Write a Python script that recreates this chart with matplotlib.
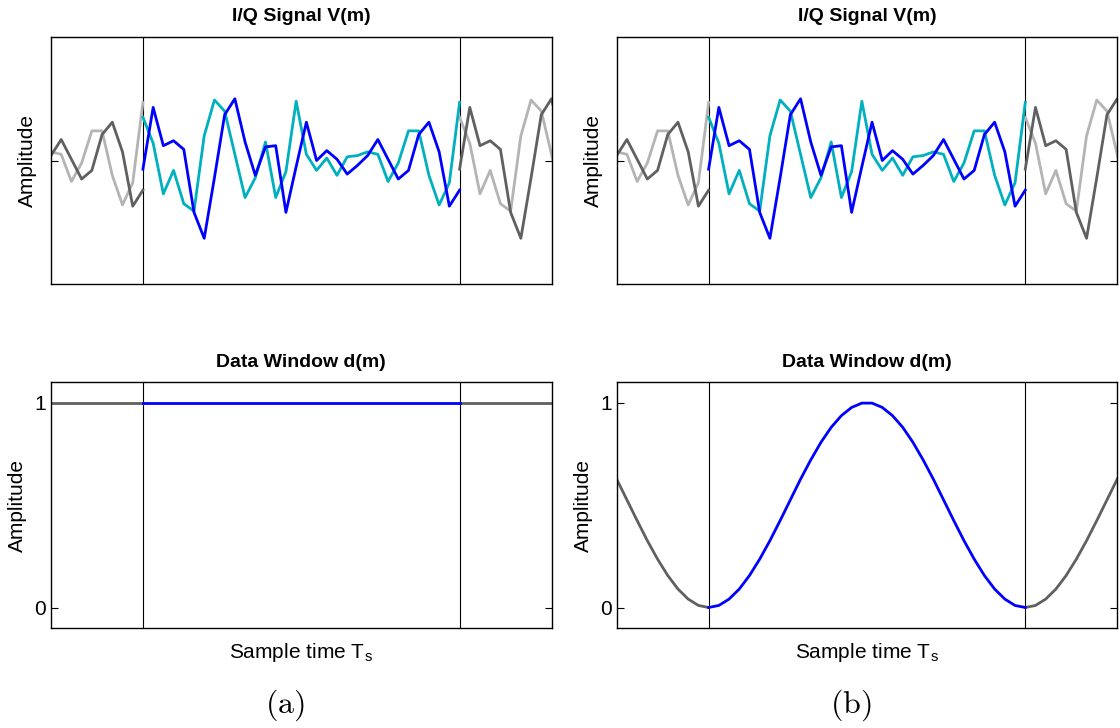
import numpy as np
import matplotlib.pyplot as plt

plt.rcParams['font.family'] = ['Liberation Sans', 'DejaVu Sans']
plt.rcParams['mathtext.fontset'] = 'cm'

# one frame of the complex baseband signal, 32 samples
n_samples = 32
i_signal = [-0.07, 0.43, 0.12, 0.16, 0.09, -0.42, -0.63, -0.14,
            0.37, 0.50, 0.15, -0.12, 0.11, 0.12, -0.42, -0.05,
            0.31, 0.00, 0.08, 0.01, -0.11, -0.04, 0.04, 0.17,
            0.01, -0.15, -0.08, 0.21, 0.31, 0.07, -0.37, -0.24]
q_signal = [0.35, 0.14, -0.27, -0.08, -0.35, -0.41, 0.20, 0.49,
            0.40, 0.05, -0.30, -0.14, 0.15, -0.30, -0.09, 0.48,
            0.05, -0.08, 0.02, -0.12, 0.03, 0.04, 0.07, 0.05,
            -0.17, -0.02, 0.24, 0.24, -0.12, -0.36, -0.18, 0.47]

# data windows over the same frame
rect_window = [1.0] * n_samples
hann_window = [0.000, 0.010, 0.041, 0.090, 0.156, 0.236, 0.326, 0.424,
               0.525, 0.626, 0.720, 0.806, 0.879, 0.936, 0.976, 0.997,
               0.997, 0.976, 0.936, 0.879, 0.806, 0.720, 0.626, 0.525,
               0.424, 0.326, 0.236, 0.156, 0.090, 0.041, 0.010, 0.000]

panel_tags = ['(a)', '(b)']
windows = [rect_window, hann_window]

c_i = '#0000ff'
c_q = '#00b0be'
c_i_rep = '#606060'
c_q_rep = '#b4b4b4'

m = np.arange(n_samples)
period = n_samples - 1
shifts = [-period, period]
x_lim = (-9, period + 9)

fs_label = 15
fs_title = 14


def style_axes(ax):
    ax.set_xlim(*x_lim)
    ax.set_xticks([])
    ax.tick_params(axis='y', direction='in', right=True, length=5,
                   width=0.8, labelsize=fs_label)
    for sp in ax.spines.values():
        sp.set_linewidth(1.0)
    # frame boundaries
    ax.axvline(0, color='k', lw=0.8, zorder=1)
    ax.axvline(period, color='k', lw=0.8, zorder=1)


fig = plt.figure(figsize=(11.2, 7.28), dpi=100)

lefts = [51 / 1120, 616.7 / 1120]
for k, left in enumerate(lefts):
    w = 500.5 / 1120
    ax_sig = fig.add_axes([left, 1 - 284 / 728, w, 247 / 728])
    ax_win = fig.add_axes([left, 1 - 628 / 728, w, 246 / 728])

    # I/Q signal with its periodic repeats outside the frame
    for s in shifts:
        ax_sig.plot(m + s, q_signal, color=c_q_rep, lw=2.0, zorder=2)
        ax_sig.plot(m + s, i_signal, color=c_i_rep, lw=2.0, zorder=2)
    ax_sig.plot(m, q_signal, color=c_q, lw=2.0, zorder=3)
    ax_sig.plot(m, i_signal, color=c_i, lw=2.0, zorder=3)
    style_axes(ax_sig)
    ax_sig.set_ylim(-1, 1)
    ax_sig.set_yticks([0])
    ax_sig.set_yticklabels([])
    ax_sig.set_title('I/Q Signal V(m)', fontsize=fs_title, fontweight='bold', pad=11.5)
    ax_sig.set_ylabel('Amplitude', fontsize=fs_label)
    ax_sig.yaxis.set_label_coords(-0.028, 0.5)

    # data window
    win = windows[k]
    for s in shifts:
        ax_win.plot(m + s, win, color=c_i_rep, lw=2.0, zorder=2)
    ax_win.plot(m, win, color=c_i, lw=2.0, zorder=3)
    style_axes(ax_win)
    ax_win.set_ylim(-0.1, 1.1)
    ax_win.set_yticks([0, 1])
    ax_win.set_title('Data Window d(m)', fontsize=fs_title, fontweight='bold', pad=11)
    ax_win.set_ylabel('Amplitude', fontsize=fs_label)
    ax_win.yaxis.set_label_coords(-0.048, 0.5)
    ax_win.set_xlabel('Sample time T$_\\mathregular{s}$', fontsize=fs_label, labelpad=9)

    fig.text(left + w / 2 - 16 / 1120, 1 - 705 / 728, '$\\mathrm{' + panel_tags[k] + '}$',
             fontsize=23, ha='center', va='center')

fig.savefig('out.png', dpi=100)
